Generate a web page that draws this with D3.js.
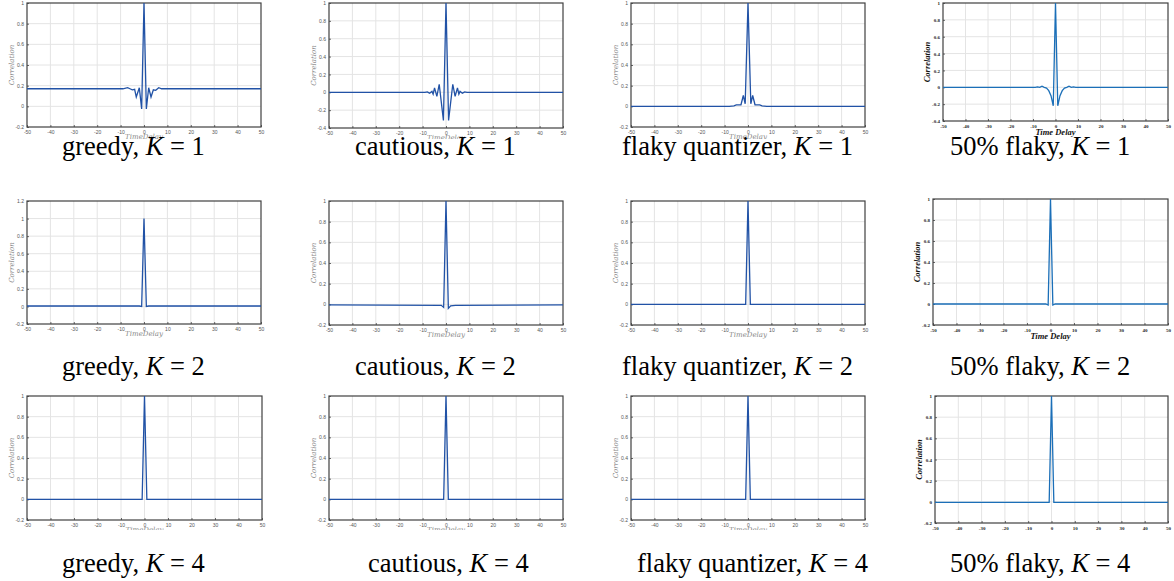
<!DOCTYPE html>
<html>
<head>
<meta charset="utf-8">
<script src="https://cdn.jsdelivr.net/npm/d3@7"></script>
<style>
  body { margin: 0; background: #fff; }
  svg { display: block; }
</style>
</head>
<body>
<svg id="fig" width="1174" height="581"></svg>
<script>
// tick values
const lagTicks = [-50, -40, -30, -20, -10, 0, 10, 20, 30, 40, 50];
const corrTicksA = [-0.2, 0, 0.2, 0.4, 0.6, 0.8, 1];
const corrTicksB = [-0.4, -0.2, 0, 0.2, 0.4, 0.6, 0.8, 1];
const corrTicksC = [-0.2, 0, 0.2, 0.4, 0.6, 0.8, 1, 1.2];

const methods = ['greedy', 'cautious', 'flaky quantizer', '50% flaky'];
const kValues = [1, 2, 4];

// [time delay, correlation]
const greedyK1 = [[-50, 0.17], [-9, 0.17], [-7, 0.18], [-6, 0.17], [-5, 0.16], [-4, 0.165], [-3.3, 0.09],
  [-2, 0.18], [-1, -0.025], [0, 1], [1, -0.025], [2, 0.18], [3, 0.09], [4, 0.16], [5, 0.155],
  [6.3, 0.18], [7.5, 0.17], [50, 0.17]];
const cautiousK1 = [[-50, 0], [-9, 0], [-8, 0.005], [-7, -0.01], [-6, 0.01], [-5.5, -0.02], [-4.9, 0.05],
  [-3.9, -0.045], [-2.9, 0.09], [-1.1, -0.315], [0, 1], [1.1, -0.315], [2.9, 0.09], [3.9, -0.045],
  [4.9, 0.05], [5.5, -0.02], [6, 0.01], [7, -0.01], [8, 0.005], [9, 0], [50, 0]];
const flakyK1 = [[-50, 0], [-8, 0], [-6, 0.005], [-5, 0.015], [-3, 0.015], [-2, 0.105], [-1.2, 0.025],
  [0, 1], [1.2, 0.025], [2, 0.105], [3, 0.015], [5, 0.015], [6, 0.005], [8, 0], [50, 0]];
const halfK1 = [[-50, 0], [-9, 0], [-8, 0.005], [-7, 0], [-6, 0.012], [-5, 0], [-4, -0.01], [-3, -0.04],
  [-2, -0.1], [-1, -0.22], [0, 1], [1, -0.22], [2, -0.1], [3, -0.04], [4, -0.01], [5, 0], [6, 0.012],
  [7, 0], [8, 0.005], [9, 0], [50, 0]];

const greedyK2 = [[-50, 0.005], [-2, 0.005], [-1, 0], [0, 1], [1, 0], [2, 0.005], [50, 0.005]];
const cautiousK2 = [[-50, -0.005], [-2, -0.01], [-1, -0.03], [0, 1], [1, -0.04], [2, -0.015], [4, -0.01], [50, -0.005]];
const flakyK2 = [[-50, 0], [-1, 0], [0, 1], [1, 0], [50, 0]];
const halfK2 = [[-50, 0], [-2, 0], [-1, -0.01], [0, 1], [1, -0.01], [2, 0], [50, 0]];

const greedyK4 = [[-50, 0], [-1, 0], [0, 1], [1, 0], [50, 0]];
const cautiousK4 = [[-50, 0], [-1, 0], [0, 1], [1, 0], [50, 0]];
const flakyK4 = [[-50, 0], [-1, 0], [0, 1], [1, 0], [50, 0]];
const halfK4 = [[-50, -0.005], [-1, -0.005], [0, 1], [1, -0.005], [50, -0.005]];

const seriesGrid = [
  [greedyK1, cautiousK1, flakyK1, halfK1],
  [greedyK2, cautiousK2, flakyK2, halfK2],
  [greedyK4, cautiousK4, flakyK4, halfK4]
];
const tickGrid = [
  [corrTicksA, corrTicksB, corrTicksA, corrTicksB],
  [corrTicksC, corrTicksA, corrTicksA, corrTicksA],
  [corrTicksA, corrTicksA, corrTicksA, corrTicksA]
];

// plot boxes (pixels) and caption placement
const boxes = [
  [[27, 261, 3, 127], [329, 563, 3, 128], [631, 865, 3, 127], [943, 1168, 3, 121]],
  [[27, 261, 201, 324], [329, 563, 201, 325], [631, 865, 201, 325], [933, 1168, 199, 325]],
  [[27, 262, 396, 520], [329, 563, 396, 520], [631, 865, 396, 520], [935, 1168, 396, 523]]
];
const clipRows = [[0, 139], [190, 344], [388, 530]];
const clipCols = [[0, 285], [290, 585], [590, 880], [880, 1174]];
const captionX = [[62, 355, 622, 950], [62, 355, 622, 950], [62, 368, 637, 950]];
const captionY = [155, 375, 572];

const svg = d3.select('#fig');

function drawPanel(row, col) {
  const [x0, x1, y0, y1] = boxes[row][col];
  const ticksY = tickGrid[row][col];
  const data = seriesGrid[row][col];
  const bold = col === 3;
  const id = 'c' + row + col;

  svg.append('clipPath').attr('id', id)
    .append('rect')
    .attr('x', clipCols[col][0]).attr('y', clipRows[row][0])
    .attr('width', clipCols[col][1] - clipCols[col][0])
    .attr('height', clipRows[row][1] - clipRows[row][0]);
  svg.append('clipPath').attr('id', id + 'p')
    .append('rect')
    .attr('x', x0).attr('y', y0 - 1).attr('width', x1 - x0).attr('height', y1 - y0 + 2);

  const g = svg.append('g').attr('clip-path', 'url(#' + id + ')');

  const x = d3.scaleLinear().domain([-50, 50]).range([x0, x1]);
  const y = d3.scaleLinear().domain([ticksY[0], ticksY[ticksY.length - 1]]).range([y1, y0]);

  // grid
  g.append('g').selectAll('line').data(lagTicks.slice(1, -1)).join('line')
    .attr('x1', d => x(d)).attr('x2', d => x(d)).attr('y1', y0).attr('y2', y1)
    .attr('stroke', '#e4e4e4').attr('stroke-width', 1);
  g.append('g').selectAll('line').data(ticksY.slice(1, -1)).join('line')
    .attr('x1', x0).attr('x2', x1).attr('y1', d => y(d)).attr('y2', d => y(d))
    .attr('stroke', '#e4e4e4').attr('stroke-width', 1);

  const tickColor = bold ? '#222' : '#555';
  const fontTick = bold ? 'bold 5px "Liberation Serif", serif' : '5px "Liberation Sans", Arial, sans-serif';

  const xAxis = g.append('g').attr('transform', 'translate(0,' + y1 + ')')
    .call(d3.axisBottom(x).tickValues(lagTicks).tickSize(-2).tickSizeOuter(0)
      .tickPadding(3).tickFormat(d => String(d)));
  const yAxis = g.append('g').attr('transform', 'translate(' + x0 + ',0)')
    .call(d3.axisLeft(y).tickValues(ticksY).tickSize(-2).tickSizeOuter(0)
      .tickPadding(3).tickFormat(d => String(d)));
  [xAxis, yAxis].forEach(a => {
    a.select('.domain').remove();
    a.selectAll('line').attr('stroke', '#444').attr('stroke-width', 0.8);
    a.selectAll('text').attr('fill', tickColor).style('font', fontTick);
  });

  // frame
  g.append('rect').attr('x', x0).attr('y', y0).attr('width', x1 - x0).attr('height', y1 - y0)
    .attr('fill', 'none').attr('stroke', '#404040').attr('stroke-width', 1.2);

  // series
  const line = d3.line().x(d => x(d[0])).y(d => y(d[1]));
  g.append('path').datum(data)
    .attr('clip-path', 'url(#' + id + 'p)')
    .attr('d', line)
    .attr('fill', 'none')
    .attr('stroke', bold ? '#1b6fb8' : '#2152a6')
    .attr('stroke-width', 1.3)
    .attr('stroke-linejoin', 'miter');

  // axis labels
  const cx = (x0 + x1) / 2, cy = (y0 + y1) / 2;
  if (bold) {
    g.append('text').attr('x', cx).attr('y', y1 + 14)
      .attr('text-anchor', 'middle')
      .style('font', 'italic bold 8.5px "Liberation Serif", serif').attr('fill', '#111')
      .text('Time Delay');
    g.append('text').attr('transform', 'translate(' + (x0 - 13) + ',' + cy + ') rotate(-90)')
      .attr('text-anchor', 'middle')
      .style('font', 'italic bold 8.5px "Liberation Serif", serif').attr('fill', '#111')
      .text('Correlation');
  } else {
    g.append('text').attr('x', cx).attr('y', y1 + 12)
      .attr('text-anchor', 'middle')
      .style('font', 'italic 7px "DejaVu Serif", serif').attr('fill', '#888')
      .text('TimeDelay');
    g.append('text').attr('transform', 'translate(' + (x0 - 13) + ',' + cy + ') rotate(-90)')
      .attr('text-anchor', 'middle')
      .style('font', 'italic 7px "DejaVu Serif", serif').attr('fill', '#888')
      .text('Correlation');
  }

  // caption
  const cap = svg.append('text').attr('x', captionX[row][col]).attr('y', captionY[row])
    .style('font', '26.5px "Liberation Serif", "Times New Roman", serif').attr('fill', '#000');
  cap.append('tspan').text(methods[col] + ', ');
  cap.append('tspan').style('font-style', 'italic').text('K');
  cap.append('tspan').text(' = ' + kValues[row]);
}

for (let r = 0; r < 3; r++) {
  for (let c = 0; c < 4; c++) drawPanel(r, c);
}
</script>
</body>
</html>
